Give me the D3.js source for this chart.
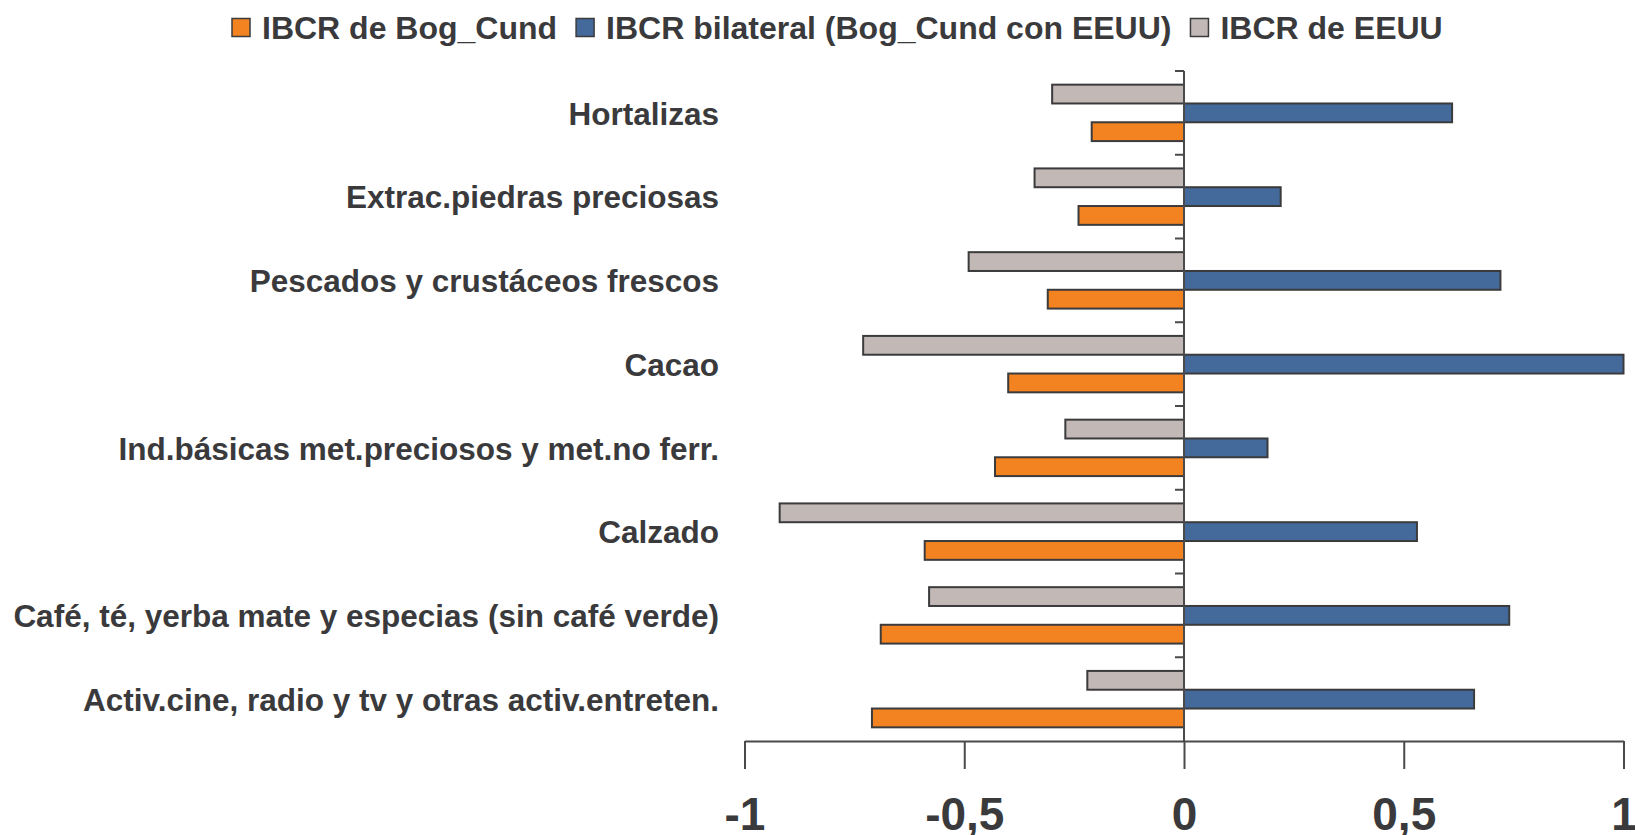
<!DOCTYPE html>
<html>
<head>
<meta charset="utf-8">
<script src="https://cdn.jsdelivr.net/npm/d3@7"></script>
<style>
  body { margin: 0; background: #fff; }
  svg text { font-family: "Liberation Sans", Arial, sans-serif; font-weight: bold; fill: #3a3a3c; }
</style>
</head>
<body>
<svg width="1635" height="835"></svg>
<script>
// categorias (de arriba hacia abajo)
var categories = [
  "Hortalizas",
  "Extrac.piedras preciosas",
  "Pescados y crustáceos frescos",
  "Cacao",
  "Ind.básicas met.preciosos y met.no ferr.",
  "Calzado",
  "Café, té, yerba mate y especias (sin café verde)",
  "Activ.cine, radio y tv y otras activ.entreten."
];
// series
var seriesNames = ["IBCR de Bog_Cund", "IBCR bilateral (Bog_Cund con EEUU)", "IBCR de EEUU"];
var bogCund   = [-0.21, -0.24, -0.31, -0.40, -0.43, -0.59, -0.69, -0.71];
var bilateral = [ 0.61,  0.22,  0.72,  1.00,  0.19,  0.53,  0.74,  0.66];
var eeuu      = [-0.30, -0.34, -0.49, -0.73, -0.27, -0.92, -0.58, -0.22];
var xTicks = [-1, -0.5, 0, 0.5, 1];

var colors = {"IBCR de Bog_Cund": "#f38320", "IBCR bilateral (Bog_Cund con EEUU)": "#44699b", "IBCR de EEUU": "#c2b8b5"};
// orden de las barras dentro de cada grupo (arriba -> abajo)
var barOrder = ["IBCR de EEUU", "IBCR bilateral (Bog_Cund con EEUU)", "IBCR de Bog_Cund"];

var svg = d3.select("svg");

var x = d3.scaleLinear().domain([-1, 1]).range([744.5, 1623.5]);
var y0 = d3.scaleBand().domain(categories).range([71, 741]).padding(0);
var y1 = d3.scaleBand().domain(barOrder).range([0, y0.bandwidth()]).paddingInner(0).paddingOuter(0.727);

var rows = categories.map(function(c, i) {
  return {
    cat: c,
    vals: [
      {s: "IBCR de EEUU", v: eeuu[i]},
      {s: "IBCR bilateral (Bog_Cund con EEUU)", v: bilateral[i]},
      {s: "IBCR de Bog_Cund", v: bogCund[i]}
    ]
  };
});

// barras
var g = svg.append("g").attr("class", "bars");
g.selectAll("g")
  .data(rows)
  .enter().append("g")
  .attr("transform", function(d) { return "translate(0," + y0(d.cat) + ")"; })
  .selectAll("rect")
  .data(function(d) { return d.vals; })
  .enter().append("rect")
  .attr("x", function(d) { return x(Math.min(0, d.v)); })
  .attr("y", function(d) { return y1(d.s); })
  .attr("width", function(d) { return Math.abs(x(d.v) - x(0)); })
  .attr("height", y1.bandwidth())
  .attr("fill", function(d) { return colors[d.s]; })
  .attr("stroke", "#3b3b3d")
  .attr("stroke-width", 2);

// eje vertical (linea del cero)
svg.append("line")
  .attr("x1", x(0)).attr("x2", x(0))
  .attr("y1", 71).attr("y2", 741)
  .attr("stroke", "#4a4a4c").attr("stroke-width", 2);

// marcas del eje vertical entre categorias
var bounds = categories.map(function(c) { return y0(c); });
svg.append("g").selectAll("line")
  .data(bounds)
  .enter().append("line")
  .attr("x1", x(0) - 9).attr("x2", x(0))
  .attr("y1", function(d) { return d; }).attr("y2", function(d) { return d; })
  .attr("stroke", "#4a4a4c").attr("stroke-width", 2);

// etiquetas de categorias
svg.append("g").selectAll("text")
  .data(categories)
  .enter().append("text")
  .attr("x", 719)
  .attr("y", function(d) { return y0(d) + y0.bandwidth() / 2; })
  .attr("dy", "0.37em")
  .attr("text-anchor", "end")
  .style("font-size", "31.5px")
  .text(function(d) { return d; });

// eje x
var xAxis = d3.axisBottom(x)
  .tickValues(xTicks)
  .tickSize(28)
  .tickSizeOuter(0)
  .tickFormat(function(d) { return String(d).replace(".", ","); });

var ax = svg.append("g")
  .attr("transform", "translate(0,741)")
  .call(xAxis);
ax.select(".domain").attr("stroke", "#4a4a4c").attr("stroke-width", 2);
ax.selectAll(".tick line").attr("stroke", "#4a4a4c").attr("stroke-width", 2);
ax.selectAll(".tick text")
  .attr("y", 89).attr("dy", null)
  .attr("fill", "#3a3a3c")
  .style("font-size", "46px")
  .style("font-family", "\"Liberation Sans\", Arial, sans-serif")
  .style("font-weight", "bold");

// leyenda
var legend = svg.append("g").attr("class", "legend");
var lx = 232;
seriesNames.forEach(function(s) {
  legend.append("rect")
    .attr("x", lx).attr("y", 18.5)
    .attr("width", 18).attr("height", 18)
    .attr("fill", colors[s])
    .attr("stroke", "#3b3b3d").attr("stroke-width", 1.5);
  var t = legend.append("text")
    .attr("x", lx + 30).attr("y", 39)
    .style("font-size", "32px")
    .text(s);
  lx = lx + 30 + t.node().getComputedTextLength() + 19;
});
</script>
</body>
</html>
